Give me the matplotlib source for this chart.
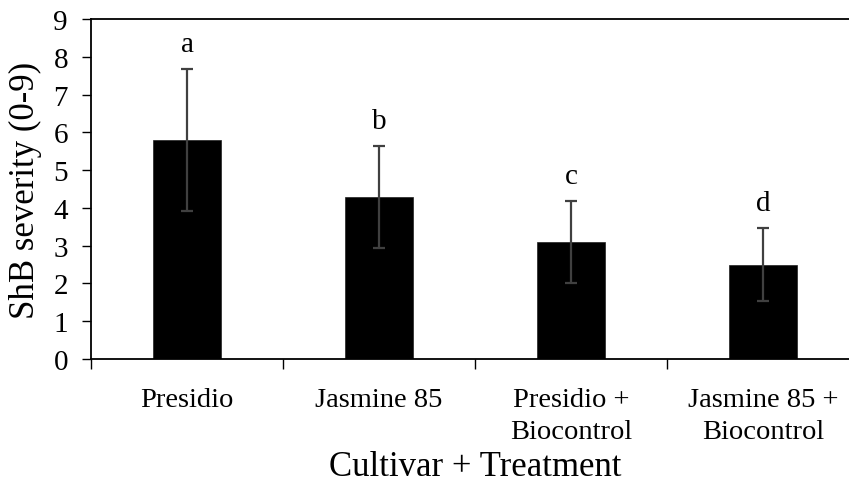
import numpy as np
import matplotlib.pyplot as plt

plt.rcParams['font.family'] = ['Liberation Serif', 'DejaVu Serif']

categories = ['Presidio', 'Jasmine 85', 'Presidio +\nBiocontrol', 'Jasmine 85 +\nBiocontrol']
severity = [5.8, 4.3, 3.1, 2.5]
sd = [1.87, 1.35, 1.08, 0.97]
letters = ['a', 'b', 'c', 'd']

fig = plt.figure(figsize=(8.49, 4.85), dpi=100)
# axes run past the right edge, as in the original
ax = fig.add_axes([91 / 849, 1 - 360 / 485, 768 / 849, 340 / 485])

x = np.arange(len(categories))
ax.bar(x, severity, width=0.355, color='black', edgecolor='#202020', linewidth=0.5, zorder=2)
ax.errorbar(x, severity, yerr=sd, fmt='none', ecolor='#404040', elinewidth=1.6,
            capsize=4.5, capthick=1.6, zorder=3)

for xi, m, e, lab in zip(x, severity, sd, letters):
    ax.text(xi, m + e + 0.47, lab, ha='center', va='baseline', fontsize=21)

ax.set_xlim(-0.5, 3.5)
ax.set_ylim(0, 9)
ax.set_yticks(range(10))
ax.tick_params(axis='y', direction='out', length=6.5, width=1, labelsize=21, pad=10)

# boundary ticks on x, labels centred between them
ax.set_xticks(np.arange(-0.5, 4.0, 1.0))
ax.set_xticklabels([])
ax.set_xticks(x, minor=True)
ax.set_xticklabels(categories, minor=True, fontsize=20.5, linespacing=1.4)
ax.tick_params(axis='x', which='major', direction='out', length=7, width=1)
ax.tick_params(axis='x', which='minor', length=0, pad=20)

ax.spines['right'].set_visible(False)
for s in ['left', 'bottom', 'top']:
    ax.spines[s].set_linewidth(1.3)

ax.set_ylabel('ShB severity (0-9)', fontsize=25, labelpad=8)
ax.set_xlabel('Cultivar + Treatment', fontsize=25, labelpad=4)

fig.savefig('out.png', dpi=100)
